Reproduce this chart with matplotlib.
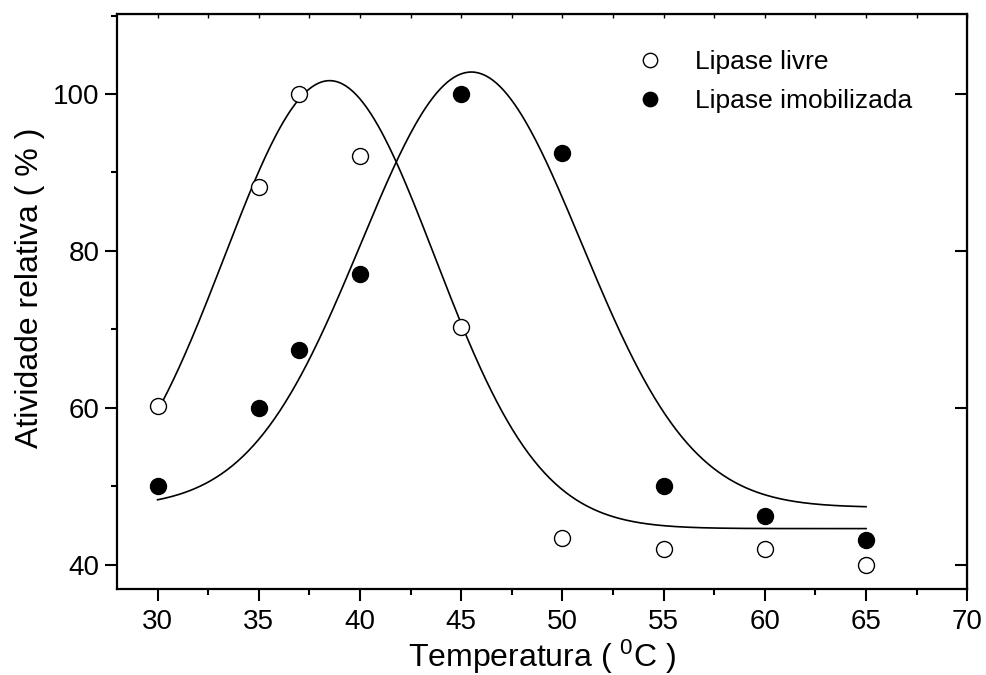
import matplotlib
matplotlib.use("Agg")
import matplotlib.pyplot as plt
import numpy as np
from matplotlib.ticker import MultipleLocator

plt.rcParams['font.family'] = ['Liberation Sans', 'DejaVu Sans']

# measured relative activity (%) vs temperature
temperatura = [30, 35, 37, 40, 45, 50, 55, 60, 65]
livre = [60.2, 88.2, 100.0, 92.1, 70.3, 43.4, 42.0, 42.0, 40.0]
imobilizada = [50.0, 60.0, 67.4, 77.0, 100.0, 92.5, 50.0, 46.2, 43.1]

# Gaussian fit parameters: baseline, amplitude, centre, width
fit_livre = (44.6, 57.1, 38.5, 5.2)
fit_imob = (47.3, 55.5, 45.5, 5.45)


def gauss(x, y0, a, xc, w):
    return y0 + a * np.exp(-(x - xc) ** 2 / (2 * w ** 2))


fig = plt.figure(figsize=(9.87, 6.75), dpi=100)
ax = fig.add_axes([0.1186, 0.1274, 0.8614, 0.8519])

xs = np.linspace(30, 65, 400)
ax.plot(xs, gauss(xs, *fit_livre), color='black', lw=1.2, zorder=2)
ax.plot(xs, gauss(xs, *fit_imob), color='black', lw=1.2, zorder=2)

ax.plot(temperatura, livre, 'o', ms=11.5, mfc='white', mec='black', mew=1.0,
        zorder=3, label='Lipase livre')
ax.plot(temperatura, imobilizada, 'o', ms=11.5, mfc='black', mec='black',
        zorder=3, label='Lipase imobilizada')

ax.set_xlim(28, 70)
ax.set_ylim(36.9, 110.2)
ax.xaxis.set_major_locator(MultipleLocator(5))
ax.xaxis.set_minor_locator(MultipleLocator(2.5))
ax.yaxis.set_minor_locator(MultipleLocator(10))
ax.set_yticks([40, 60, 80, 100])

for s in ax.spines.values():
    s.set_linewidth(1.6)
ax.tick_params(which='major', direction='out', length=8.5, width=1.5,
               labelsize=20, pad=4)
ax.tick_params(axis='x', which='major', pad=6)
ax.tick_params(which='minor', direction='out', length=4.5, width=1.5)

# top axis: short inward ticks, right axis: inward major ticks
top = ax.secondary_xaxis('top')
top.xaxis.set_major_locator(MultipleLocator(2.5))
top.tick_params(direction='in', length=3, width=1.0, labeltop=False)
right = ax.secondary_yaxis('right')
right.set_yticks([40, 60, 80, 100])
right.tick_params(direction='in', length=9, width=1.5, labelright=False)

ax.set_xlabel('Temperatura ( $\\mathregular{^0}$C )', fontsize=23, labelpad=2)
ax.set_ylabel('Atividade relativa ( % )', fontsize=23, labelpad=6)
ax.yaxis.label.set_y(0.524)

leg = ax.legend(loc='upper left', bbox_to_anchor=(0.574, 0.978), frameon=False,
                fontsize=19, handletextpad=0.9, labelspacing=0.57,
                markerscale=0.9, handlelength=1.6)

fig.savefig('out.png', dpi=100)
